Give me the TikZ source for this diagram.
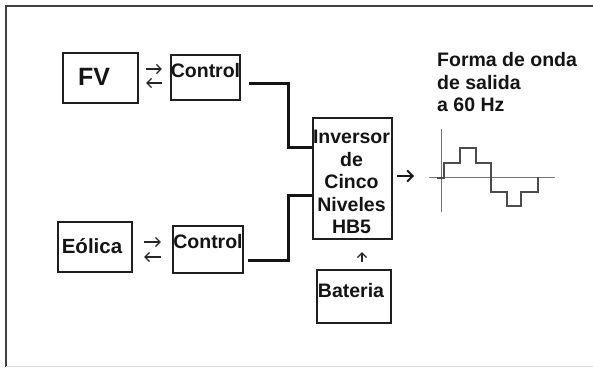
\documentclass[tikz,border=0pt]{standalone}
\usepackage{fontspec}
\setmainfont{Liberation Sans}
\usetikzlibrary{arrows.meta}
\begin{document}
\begin{tikzpicture}[x=1pt,y=-1pt,
  box/.style={draw=black!88,line width=2.2pt,rectangle,inner sep=0pt},
  txt/.style={font=\fontsize{19.5}{22.5}\selectfont\bfseries,text=black!92,inner sep=0pt},
  conn/.style={line width=3pt,black!92},
  thinarr/.style={line width=1.3pt,black!85,-{Straight Barb[length=4.5pt,width=9pt]}},
  fatarr/.style={line width=2pt,black!90,-{Straight Barb[length=5.5pt,width=11pt]}},
  axis/.style={line width=1.2pt,black!55},
  wave/.style={line width=2.4pt,black!70}]
\useasboundingbox (0,0) rectangle (593,367);
\fill[white] (0,0) rectangle (593,367);
% frame
\draw[line width=1.6pt,black!75] (6,367) -- (6,5.7) -- (593,5.7);
\draw[line width=1pt,black!15] (6,366) -- (593,366);
% boxes
\node[box,minimum width=75pt,minimum height=50pt] (fv) at (100.5,78) {};
\node[txt,font=\fontsize{25}{28}\selectfont\bfseries] (fvt) at (94,77) {FV};
\node[box,minimum width=69pt,minimum height=45pt] (c1) at (205.5,77.5) {};
\node[txt] (c1t) at (205.5,71) {Control};
\node[box,minimum width=74pt,minimum height=50pt] (eo) at (95,247) {};
\node[txt,font=\fontsize{20.5}{24}\selectfont\bfseries] (eot) at (92,246) {Eólica};
\node[box,minimum width=70pt,minimum height=47pt] (c2) at (208,249.5) {};
\node[txt] (c2t) at (208,242) {Control};
\node[box,minimum width=79pt,minimum height=121pt] (inv) at (352.5,178.5) {};
\node[txt,align=center] (invt) at (351.5,182) {Inversor\\de\\Cinco\\Niveles\\HB5};
\node[box,minimum width=74pt,minimum height=53pt] (bat) at (354,296.5) {};
\node[txt] (batt) at (351,291) {Bateria};
% small bidirectional arrows
\draw[thinarr] ([xshift=7pt,yshift=9pt]fv.east) -- ([xshift=-8pt,yshift=9pt]fv.east -| c1.west);
\draw[thinarr] ([xshift=-8pt,yshift=-5pt]fv.east -| c1.west) -- ([xshift=7pt,yshift=-5pt]fv.east);
\draw[thinarr] ([xshift=11pt,yshift=5pt]eo.east) -- ([xshift=-11pt,yshift=5pt]eo.east -| c2.west);
\draw[thinarr] ([xshift=-11pt,yshift=-10pt]eo.east -| c2.west) -- ([xshift=11pt,yshift=-10pt]eo.east);
% connectors to inverter
\draw[conn] ([xshift=8pt,yshift=-5.5pt]c1.east) -- ++(39,0) |- ([yshift=31.5pt]inv.west);
\draw[conn] ([xshift=4pt,yshift=-10.5pt]c2.east) -- ++(40,0) |- ([yshift=-16.5pt]inv.west);
% output arrow
\draw[fatarr] ([xshift=4pt,yshift=2.5pt]inv.east) -- ++(17,0);
% battery arrow
\draw[thinarr] ([xshift=8pt,yshift=7pt]bat.north) -- ([xshift=9.5pt,yshift=-12pt]inv.south);
% title
\node[txt,anchor=base west] (t1) at (437,66.5) {Forma de onda};
\node[txt,anchor=base west] (t2) at (437,89) {de salida};
\node[txt,anchor=base west] (t3) at (437,111.5) {a 60 Hz};
% waveform
\draw[axis] (441.7,129) -- (441.7,212);
\draw[axis] (429,177.7) -- (555,177.7);
\draw[wave] (437,178) -- (444,178) -- (444,162.7) -- (460,162.7) -- (460,148) -- (476,148)
  -- (476,162.7) -- (490.7,162.7) -- (490.7,191.7) -- (507,191.7) -- (507,205.7)
  -- (520.7,205.7) -- (520.7,191.7) -- (538,191.7) -- (538,176.5);
\end{tikzpicture}
\end{document}
